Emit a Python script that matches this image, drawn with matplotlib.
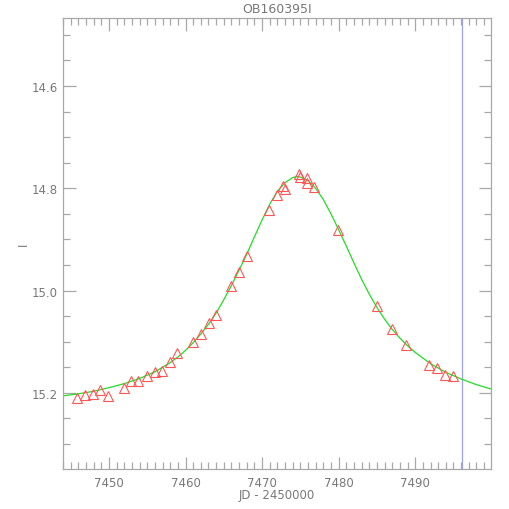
import matplotlib
matplotlib.use('Agg')
import matplotlib.pyplot as plt
from matplotlib.ticker import MultipleLocator

# observed photometry (JD - 2450000, I mag)
obs_jd = [7445.87, 7446.88, 7447.89, 7448.88, 7449.93, 7451.94, 7452.86,
          7453.85, 7454.95, 7456.00, 7456.99, 7458.00, 7458.95, 7460.97,
          7462.02, 7463.01, 7464.02, 7465.89, 7466.96, 7467.98, 7470.95,
          7471.93, 7472.78, 7472.95, 7474.88, 7474.97, 7475.92, 7475.88,
          7476.84, 7479.94, 7484.95, 7486.91, 7488.79, 7491.85, 7492.89,
          7493.89, 7494.94]
obs_mag = [15.210, 15.205, 15.202, 15.195, 15.207, 15.191, 15.177,
           15.177, 15.168, 15.160, 15.157, 15.139, 15.122, 15.101,
           15.085, 15.064, 15.047, 14.992, 14.963, 14.933, 14.842,
           14.814, 14.795, 14.801, 14.772, 14.778, 14.780, 14.789,
           14.797, 14.881, 15.031, 15.075, 15.106, 15.145, 15.152,
           15.165, 15.167]

# fitted model curve
fit_jd = [7444, 7446, 7448, 7450, 7452, 7454, 7456, 7458, 7459, 7460,
          7461, 7462, 7463, 7464, 7465, 7466, 7467, 7468, 7469, 7470,
          7471, 7472, 7473, 7474, 7474.6, 7475, 7476, 7477, 7478, 7479,
          7480, 7481, 7482, 7483, 7484, 7485, 7486, 7487, 7488, 7489,
          7490, 7492, 7494, 7496, 7498, 7500]
fit_mag = [15.206, 15.202, 15.197, 15.190, 15.182, 15.172, 15.159, 15.141,
           15.130, 15.117, 15.102, 15.085, 15.066, 15.044, 15.018, 14.990,
           14.960, 14.929, 14.895, 14.862, 14.831, 14.806, 14.789, 14.779,
           14.777, 14.778, 14.785, 14.800, 14.822, 14.850, 14.881, 14.913,
           14.946, 14.978, 15.007, 15.033, 15.056, 15.076, 15.093, 15.108,
           15.121, 15.143, 15.160, 15.173, 15.184, 15.193]

now_jd = 7496.15
title = 'OB160395I'

axcol = '#a8a8a8'
txtcol = '#787878'

fig = plt.figure(figsize=(5.1, 5.1), dpi=100)
ax = fig.add_axes([63/510., 40/510., 428/510., 451/510.])

ax.plot(fit_jd, fit_mag, color='#22dd22', lw=0.9, zorder=2)
ax.plot(obs_jd, obs_mag, linestyle='none', marker='^', markersize=7,
        mfc='none', mec='#ff5555', mew=0.8, zorder=3)
ax.axvline(now_jd, color='#9da0f0', lw=0.9, zorder=1)

ax.set_xlim(7444, 7499.9)
ax.set_ylim(15.349, 14.467)

ax.xaxis.set_major_locator(MultipleLocator(10))
ax.xaxis.set_minor_locator(MultipleLocator(1))
ax.yaxis.set_major_locator(MultipleLocator(0.2))
ax.yaxis.set_minor_locator(MultipleLocator(0.05))
ax.yaxis.set_major_formatter(matplotlib.ticker.FormatStrFormatter('%.1f'))

ax.tick_params(which='both', direction='in', top=True, right=True,
               color=axcol, labelcolor=txtcol, labelsize=8.5, width=0.9)
ax.tick_params(which='major', length=9)
ax.tick_params(axis='x', which='major', pad=5)
ax.tick_params(axis='y', which='major', pad=4)
ax.tick_params(which='minor', length=5)
for s in ax.spines.values():
    s.set_color(axcol)
    s.set_linewidth(0.9)

ax.set_title(title, color=txtcol, fontsize=9, pad=4)
ax.set_xlabel('JD - 2450000', color=txtcol, fontsize=8.5, labelpad=-1)
ax.set_ylabel('I', color=txtcol, fontsize=8.5)
ax.yaxis.set_label_coords(-0.078, 0.5)

fig.savefig('out.png', dpi=100, facecolor='white')
